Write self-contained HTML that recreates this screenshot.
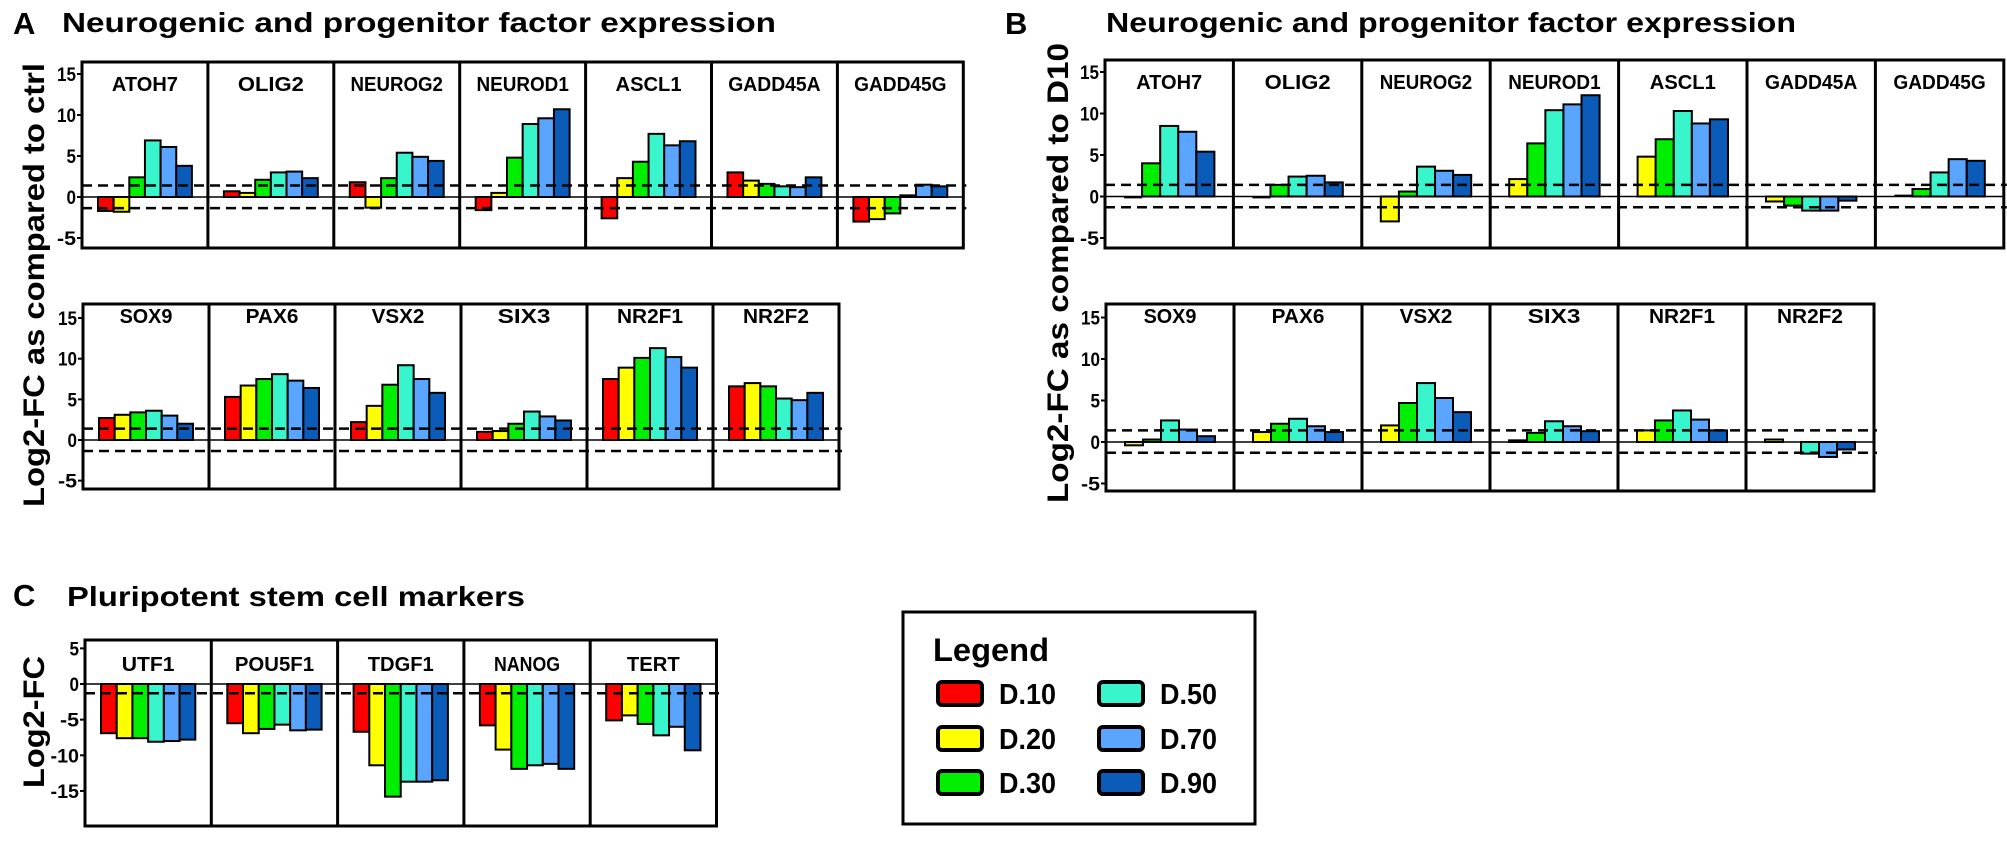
<!DOCTYPE html>
<html><head><meta charset="utf-8"><style>
html,body{margin:0;padding:0;background:#fff}
svg{display:block}
text{font-family:"Liberation Sans",Arial,sans-serif;font-weight:bold;fill:#000}
</style></head><body>
<svg id="s" width="2007" height="846" viewBox="0 0 2007 846" xmlns="http://www.w3.org/2000/svg">
<text x="13" y="34" font-size="31">A</text>
<text x="62" y="32" font-size="28" textLength="714" lengthAdjust="spacingAndGlyphs">Neurogenic and progenitor factor expression</text>
<text x="1005" y="34" font-size="31">B</text>
<text x="1106" y="32" font-size="28" textLength="690" lengthAdjust="spacingAndGlyphs">Neurogenic and progenitor factor expression</text>
<text x="13" y="606" font-size="31">C</text>
<text x="67" y="606" font-size="28" textLength="458" lengthAdjust="spacingAndGlyphs">Pluripotent stem cell markers</text>
<text transform="translate(44,285) rotate(-90)" text-anchor="middle" font-size="30" textLength="444" lengthAdjust="spacingAndGlyphs">Log2-FC as compared to ctrl</text>
<text transform="translate(1068,273) rotate(-90)" text-anchor="middle" font-size="30" textLength="460" lengthAdjust="spacingAndGlyphs">Log2-FC as compared to D10</text>
<text transform="translate(44,722) rotate(-90)" text-anchor="middle" font-size="30" textLength="132" lengthAdjust="spacingAndGlyphs">Log2-FC</text>
<g id="g"></g>
<rect x="903" y="612" width="352" height="212" fill="none" stroke="#000" stroke-width="3"/>
<text x="933" y="661" font-size="32" textLength="116" lengthAdjust="spacingAndGlyphs">Legend</text>
</svg>
<script>
var C6=["#ff0000","#ffff00","#00ee00","#38f5cc","#5aa5ff","#0a5cb8"];
var C5=C6.slice(1);
var out="";
function panel(o){
  var n=o.genes.length, W=o.w;
  var right=o.x0+n*W;
  var yv=function(v){return o.zero-v*o.unit;};
  o.genes.forEach(function(g,i){
    var px=o.x0+i*W, nb=g[1].length, bw=(W-2*o.inset)/nb;
    g[1].forEach(function(v,j){
      if(v===null)return;
      var y0=yv(0), y1=yv(v), t=Math.min(y0,y1), h=Math.abs(y1-y0);
      if(h<1.5){out+='<line x1="'+(px+o.inset+j*bw)+'" x2="'+(px+o.inset+(j+1)*bw)+'" y1="'+y1+'" y2="'+y1+'" stroke="#000" stroke-width="2"/>';return;}
      out+='<rect x="'+(px+o.inset+j*bw)+'" y="'+t+'" width="'+bw+'" height="'+h+'" fill="'+o.cols[j]+'" stroke="#000" stroke-width="2"/>';
    });
    out+='<text x="'+(px+W/2)+'" y="'+o.lab+'" font-size="20" text-anchor="middle" textLength="'+(g[0].length*13.2)+'" lengthAdjust="spacingAndGlyphs">'+g[0]+'</text>';
  });
  out+='<line x1="'+o.x0+'" x2="'+right+'" y1="'+yv(0)+'" y2="'+yv(0)+'" stroke="#000" stroke-width="1.5"/>';
  o.dash.forEach(function(d){out+='<line x1="'+o.x0+'" x2="'+(right+3)+'" y1="'+yv(d)+'" y2="'+yv(d)+'" stroke="#000" stroke-width="2.5" stroke-dasharray="10,6"/>';});
  out+='<rect x="'+o.x0+'" y="'+o.top+'" width="'+(n*W)+'" height="'+(o.bot-o.top)+'" fill="none" stroke="#000" stroke-width="3"/>';
  for(var i=1;i<n;i++){var x=o.x0+i*W;out+='<line x1="'+x+'" x2="'+x+'" y1="'+o.top+'" y2="'+o.bot+'" stroke="#000" stroke-width="3"/>';}
  o.ticks.forEach(function(t){var y=yv(t);
    out+='<line x1="'+(o.x0-5)+'" x2="'+o.x0+'" y1="'+y+'" y2="'+y+'" stroke="#000" stroke-width="2"/>';
    var s=String(t);
    out+='<text x="'+(o.x0-6)+'" y="'+(y+7)+'" font-size="19" text-anchor="end" textLength="'+(s.length*9.5)+'" lengthAdjust="spacingAndGlyphs">'+s+'</text>';});
}
panel({x0:82,w:125.9,top:62,bot:248,zero:197,unit:8.2,inset:16,lab:91,cols:C6,dash:[1.4,-1.35],ticks:[15,10,5,0,-5],genes:[
["ATOH7",[-1.7,-1.8,2.4,6.9,6.1,3.8]],["OLIG2",[0.7,0.5,2.1,3.0,3.1,2.3]],["NEUROG2",[1.8,-1.3,2.3,5.4,4.9,4.4]],
["NEUROD1",[-1.6,0.5,4.8,8.9,9.6,10.7]],["ASCL1",[-2.6,2.3,4.3,7.7,6.3,6.8]],["GADD45A",[3.0,2.0,1.6,1.3,1.2,2.4]],
["GADD45G",[-3.0,-2.7,-2.0,0.2,1.5,1.3]]]});
panel({x0:83,w:126,top:304,bot:489,zero:440,unit:8.13,inset:16,lab:323,cols:C6,dash:[1.4,-1.35],ticks:[15,10,5,0,-5],genes:[
["SOX9",[2.7,3.1,3.4,3.6,3.0,2.0]],["PAX6",[5.3,6.7,7.5,8.1,7.3,6.4]],["VSX2",[2.2,4.2,6.8,9.2,7.5,5.8]],
["SIX3",[1.0,1.1,2.0,3.5,2.9,2.4]],["NR2F1",[7.5,8.9,10.1,11.3,10.2,8.9]],["NR2F2",[6.6,7.0,6.6,5.1,4.9,5.8]]]});
panel({x0:1105,w:128.4,top:60,bot:248,zero:196.5,unit:8.3,inset:19,lab:89,cols:C5,dash:[1.4,-1.3],ticks:[15,10,5,0,-5],genes:[
["ATOH7",[-0.1,4.0,8.5,7.8,5.4]],["OLIG2",[-0.1,1.4,2.4,2.5,1.7]],["NEUROG2",[-3.0,0.6,3.6,3.1,2.6]],
["NEUROD1",[2.1,6.4,10.4,11.1,12.2]],["ASCL1",[4.8,6.9,10.3,8.8,9.3]],["GADD45A",[-0.6,-1.1,-1.7,-1.7,-0.5]],
["GADD45G",[0.1,0.9,2.9,4.5,4.3]]]});
panel({x0:1106,w:128,top:304,bot:491,zero:442,unit:8.3,inset:19,lab:323,cols:C5,dash:[1.4,-1.3],ticks:[15,10,5,0,-5],genes:[
["SOX9",[-0.4,0.3,2.6,1.5,0.7]],["PAX6",[1.2,2.2,2.8,1.9,1.2]],["VSX2",[2.0,4.7,7.1,5.3,3.6]],
["SIX3",[0.2,1.1,2.5,1.9,1.3]],["NR2F1",[1.4,2.6,3.8,2.7,1.4]],["NR2F2",[0.3,null,-1.4,-1.8,-0.9]]]});
panel({x0:85,w:126.3,top:640,bot:826,zero:684,unit:7.13,inset:16,lab:671,cols:C6,dash:[-1.3],ticks:[5,0,-5,-10,-15],genes:[
["UTF1",[-6.9,-7.6,-7.6,-8.1,-8.0,-7.8]],["POU5F1",[-5.5,-6.9,-6.3,-5.7,-6.5,-6.4]],["TDGF1",[-6.7,-11.4,-15.8,-13.7,-13.7,-13.5]],
["NANOG",[-5.8,-9.2,-11.9,-11.4,-11.2,-11.9]],["TERT",[-5.1,-4.4,-5.6,-7.2,-6.0,-9.3]]]});
var L=[["D.10",938,682,C6[0]],["D.20",938,727,C6[1]],["D.30",938,771,C6[2]],["D.50",1099,682,C6[3]],["D.70",1099,727,C6[4]],["D.90",1099,771,C6[5]]];
L.forEach(function(l){
  out+='<rect x="'+l[1]+'" y="'+l[2]+'" width="44" height="23" rx="4" fill="'+l[3]+'" stroke="#000" stroke-width="4"/>';
  out+='<text x="'+(l[1]+61)+'" y="'+(l[2]+22)+'" font-size="29" textLength="57" lengthAdjust="spacingAndGlyphs">'+l[0]+'</text>';
});
document.getElementById("g").innerHTML=out;
</script>
</body></html>
